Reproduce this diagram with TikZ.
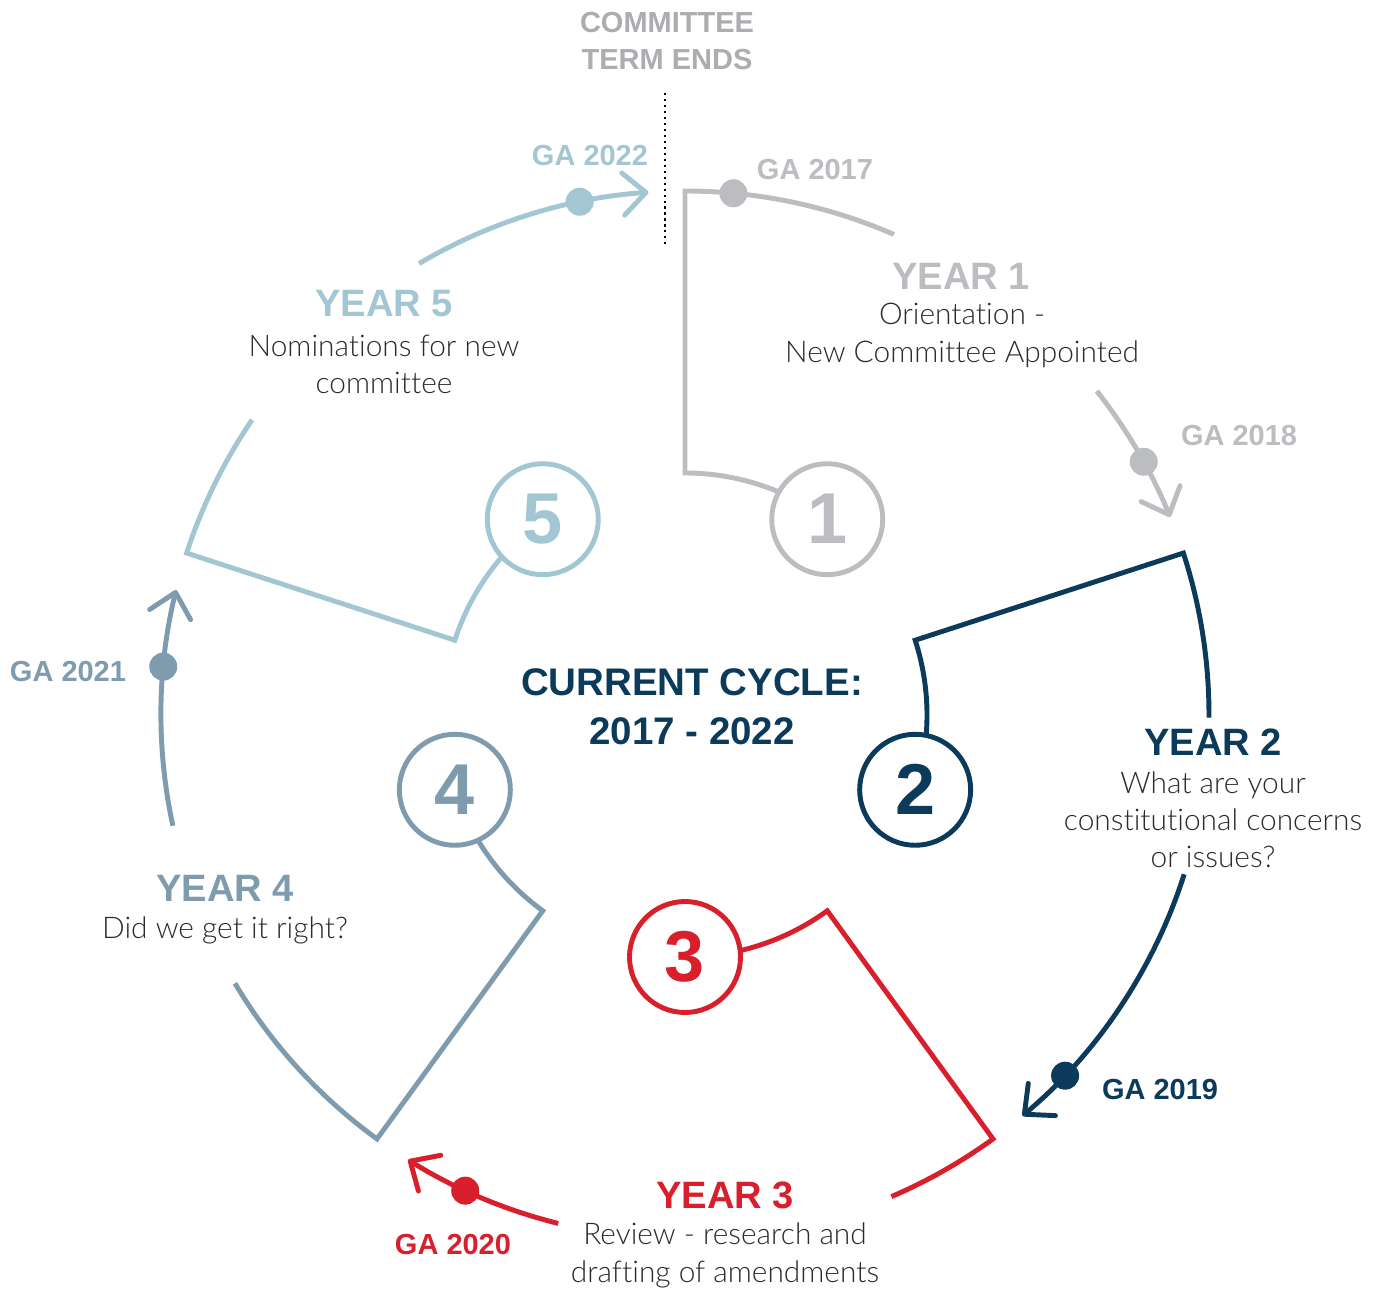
\documentclass[tikz,border=0pt]{standalone}
\usepackage{fontspec}
\setmainfont{Lato}[UprightFont=* Light, BoldFont=* Bold, Ligatures=CommonOff]
\newfontfamily\hd{Liberation Sans}
\usetikzlibrary{arrows.meta}
\definecolor{cgrey}{HTML}{BCBDC1}
\definecolor{cterm}{HTML}{ABADB0}
\definecolor{cnavy}{HTML}{0B3A5A}
\definecolor{cred}{HTML}{D81F2B}
\definecolor{cslate}{HTML}{7F9BAE}
\definecolor{cblue}{HTML}{A3C6D3}
\definecolor{ctxt}{HTML}{2B2B2B}
\def\Rout{524}
\def\Rin{242}
\begin{document}
\begin{tikzpicture}[x=0.02cm,y=0.02cm,
  ring/.style={line width=2.8pt, line join=miter},
  tipped/.style={line width=2.8pt, -{Straight Barb[length=13pt,width=24pt,round]}},
  numcirc/.style={circle, draw, line width=2.8pt, fill=white, minimum size=2.22cm, inner sep=0pt,
     font=\hd\bfseries\fontsize{41}{41}\selectfont},
  galab/.style={font=\hd\bfseries\fontsize{16.5}{21.5}\selectfont, align=center},
  yrlab/.style={font=\hd\bfseries\fontsize{21.7}{26}\selectfont},
  body/.style={font=\fontsize{17}{21.2}\selectfont, text=ctxt, align=center},
  gadot/.style={radius=14}]
\useasboundingbox (0,0) rectangle (1382,1289);
\fill[white] (0,0) rectangle (1382,1289);

% dotted divider
\coordinate (dtop) at (665,1196);
\coordinate (dbot) at (665,1041);
\draw[line width=1.2pt, dash pattern=on 1.2pt off 2.2pt] (dtop) -- (dbot);

\begin{scope}[shift={(685,574)}]
  % YEAR 1
  \draw[ring, cgrey] (66.5:\Rout) arc[start angle=66.5, end angle=90, radius=\Rout]
     -- (90:\Rin) arc[start angle=90, end angle=54, radius=\Rin];
  \draw[tipped, cgrey] (38.2:\Rout) arc[start angle=38.2, end angle=22.2, radius=\Rout];
  \fill[cgrey] (84.7:\Rout) circle[gadot];
  \fill[cgrey] (28.9:\Rout) circle[gadot];
  \node[numcirc, draw=cgrey, text=cgrey] (n1) at (54:\Rin) {1};
  % YEAR 2
  \draw[ring, cnavy] (-0.3:\Rout) arc[start angle=-0.3, end angle=18, radius=\Rout]
     -- (18:\Rin) arc[start angle=18, end angle=-18, radius=\Rin];
  \draw[tipped, cnavy] (-17.7:\Rout) arc[start angle=-17.7, end angle=-49.9, radius=\Rout];
  \fill[cnavy] (-43.5:\Rout) circle[gadot];
  \node[numcirc, draw=cnavy, text=cnavy] (n2) at (-18:\Rin) {2};
  % YEAR 3
  \draw[ring, cred] (-66.8:\Rout) arc[start angle=-66.8, end angle=-54, radius=\Rout]
     -- (-54:\Rin) arc[start angle=-54, end angle=-90, radius=\Rin];
  \draw[tipped, cred] (-104:\Rout) arc[start angle=-104, end angle=-121.9, radius=\Rout];
  \fill[cred] (-114.8:\Rout) circle[gadot];
  \node[numcirc, draw=cred, text=cred] (n3) at (-90:\Rin) {3};
  % YEAR 4
  \draw[ring, cslate] (-149.2:\Rout) arc[start angle=-149.2, end angle=-126, radius=\Rout]
     -- (-126:\Rin) arc[start angle=-126, end angle=-162, radius=\Rin];
  \draw[tipped, cslate] (-167.8:\Rout) arc[start angle=-167.8, end angle=-193.8, radius=\Rout];
  \fill[cslate] (-185.3:\Rout) circle[gadot];
  \node[numcirc, draw=cslate, text=cslate] (n4) at (-162:\Rin) {4};
  % YEAR 5
  \draw[ring, cblue] (145.7:\Rout) arc[start angle=145.7, end angle=162, radius=\Rout]
     -- (162:\Rin) arc[start angle=162, end angle=126, radius=\Rin];
  \draw[tipped, cblue] (120.5:\Rout) arc[start angle=120.5, end angle=94, radius=\Rout];
  \fill[cblue] (101.6:\Rout) circle[gadot];
  \node[numcirc, draw=cblue, text=cblue] (n5) at (126:\Rin) {5};
\end{scope}

% labels
\node[galab, text=cterm] (term) at (667,1248) {COMMITTEE\\TERM ENDS};
\node[galab, text=cblue] (ga22) at (590,1133) {GA 2022};
\node[galab, text=cgrey] (ga17) at (815,1119) {GA 2017};
\node[galab, text=cgrey] (ga18) at (1239,853) {GA 2018};
\node[galab, text=cnavy] (ga19) at (1160,199) {GA 2019};
\node[galab, text=cred] (ga20) at (453,44) {GA 2020};
\node[galab, text=cslate] (ga21) at (68,617) {GA 2021};

\node[font=\hd\bfseries\fontsize{21.9}{27.8}\selectfont, text=cnavy, align=center] (cycle) at (692,582.5) {CURRENT CYCLE:\\2017 - 2022};

\node[yrlab, text=cgrey] (y1) at (961,1013) {YEAR 1};
\node[body] (b1) at (962,953.5) {Orientation -\\New Committee Appointed};
\node[yrlab, text=cnavy] (y2) at (1213,547) {YEAR 2};
\node[body] (b2) at (1213,469) {What are your\\constitutional concerns\\or issues?};
\node[yrlab, text=cred] (y3) at (725,94) {YEAR 3};
\node[body] (b3) at (725,33.5) {Review - research and\\drafting of amendments};
\node[yrlab, text=cslate] (y4) at (225,401) {YEAR 4};
\node[body] (b4) at (225,359) {Did we get it right?};
\node[yrlab, text=cblue] (y5) at (384,985) {YEAR 5};
\node[body] (b5) at (384,924.5) {Nominations for new\\committee};
\end{tikzpicture}
\end{document}
